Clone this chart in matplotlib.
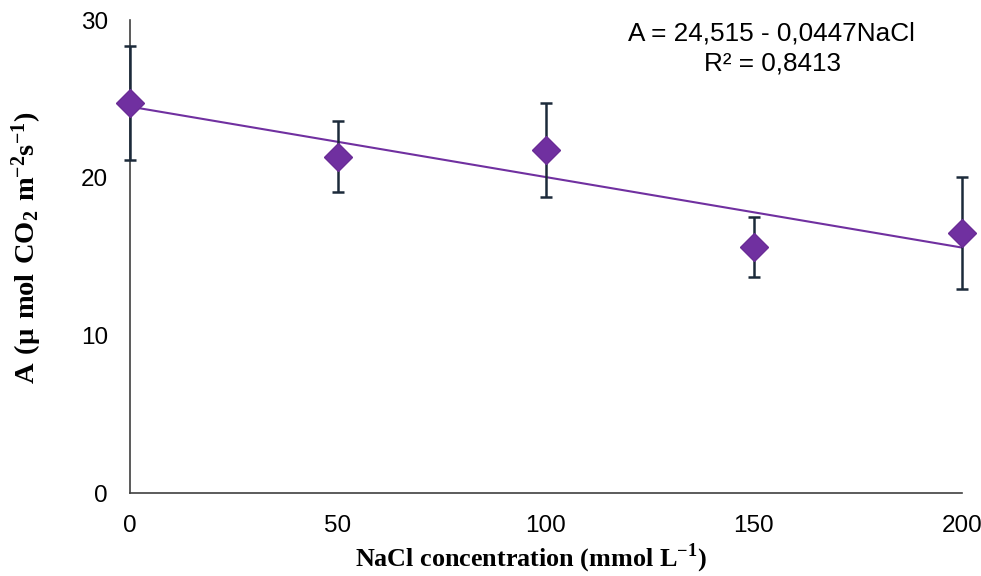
import numpy as np
import matplotlib.pyplot as plt

plt.rcParams['mathtext.fontset'] = 'custom'
plt.rcParams['mathtext.rm'] = 'Liberation Serif'
plt.rcParams['mathtext.bf'] = 'Liberation Serif:bold'

# Data
nacl = [0, 50, 100, 150, 200]
a_mean = [24.75, 21.35, 21.75, 15.6, 16.5]
a_err = [3.6, 2.25, 3.0, 1.9, 3.55]

# Linear fit shown on the chart
intercept, slope = 24.515, -0.0447
x_fit = np.array([0, 200])
y_fit = intercept + slope * x_fit

fig = plt.figure(figsize=(9.81, 5.76), dpi=100)
ax = fig.add_axes([0.1325, 0.144, 0.848, 0.821])

ax.plot(x_fit, y_fit, color='#7030A0', linewidth=1.5, zorder=2, clip_on=False)
eb = ax.errorbar(nacl, a_mean, yerr=a_err, fmt='none', ecolor='#1c2a3a',
                 elinewidth=1.8, capsize=4.5, capthick=1.8, zorder=3)
for art in eb.lines[1] + eb.lines[2]:
    art.set_clip_on(False)
ax.plot(nacl, a_mean, 'D', color='#7030A0', markersize=14,
        markeredgecolor='#6a2c96', zorder=4, clip_on=False)

ax.set_xlim(0, 200)
ax.set_ylim(0, 30)
ax.set_xticks([0, 50, 100, 150, 200])
ax.set_yticks([0, 10, 20, 30])
ax.tick_params(length=0, labelsize=17.5)
ax.tick_params(axis='x', pad=16)
ax.tick_params(axis='y', pad=16)
for lab in ax.get_xticklabels() + ax.get_yticklabels():
    lab.set_fontfamily('Liberation Sans')

for side in ['top', 'right']:
    ax.spines[side].set_visible(False)
for side in ['left', 'bottom']:
    ax.spines[side].set_color('#404040')
    ax.spines[side].set_linewidth(1.2)

ax.set_xlabel(r'NaCl concentration (mmol L$^{\mathbf{-1}}$)', fontsize=18.8,
              fontweight='bold', fontfamily='Liberation Serif')
ax.xaxis.set_label_coords(0.482, -0.102)
ax.set_ylabel(r'$\mathbf{A\ (µ\ mol\ CO_2\ m^{-2}s^{-1})}$', fontsize=20.5)
ax.yaxis.set_label_coords(-0.103, 0.518)

fig.text(0.786, 0.942, 'A = 24,515 - 0,0447NaCl', ha='center', va='center',
         fontsize=18.8, fontfamily='Liberation Sans')
fig.text(0.787, 0.890, 'R² = 0,8413', ha='center', va='center',
         fontsize=18.8, fontfamily='Liberation Sans')

fig.savefig('out.png', dpi=100)
